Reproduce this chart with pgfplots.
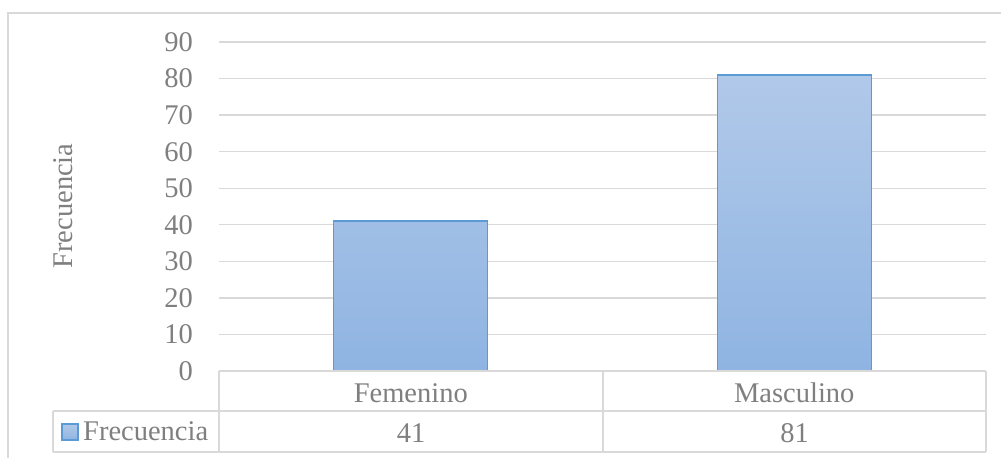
\documentclass[border=0pt]{standalone}
\usepackage{fontspec}
\setmainfont{Liberation Serif}
\usepackage{pgfplots}
\pgfplotsset{compat=1.18}
\definecolor{txt}{RGB}{127,127,127}
\definecolor{gridc}{RGB}{217,217,217}
\definecolor{bartop}{RGB}{177,201,233}
\definecolor{barbot}{RGB}{143,180,226}
\definecolor{bardraw}{RGB}{91,155,213}
\newcommand{\F}{\fontsize{28.5pt}{34pt}\selectfont}
\begin{document}
\begin{tikzpicture}[x=1pt,y=1pt]
\path[use as bounding box] (0,0) rectangle (1001,-458);
\draw[gridc, line width=1.3pt] (8,-458) -- (8,-13) -- (1001,-13);
\begin{axis}[at={(219pt,-371pt)}, anchor=south west, scale only axis,
  width=767pt, height=329pt,
  xmin=-0.5, xmax=1.5, ymin=0, ymax=90, ytick={0,10,...,90},
  xtick={0,1}, xticklabels={Femenino,Masculino},
  axis line style={draw=none}, major tick length=0pt,
  ymajorgrids, grid style={gridc, line width=1.3pt},
  tick label style={font=\F, text=txt},
  /pgf/number format/assume math mode=true,
  yticklabel style={anchor=east, inner sep=0pt, xshift=-26pt},
  xticklabel style={anchor=base, inner sep=0pt, yshift=-31pt},
  clip=false]
\addplot[ybar, bar width=154pt, bar shift=0pt, draw=none,
  top color=bartop, bottom color=barbot] coordinates {(0,41) (1,81)};
\addplot[ybar, bar width=154pt, bar shift=0pt, draw=bardraw, fill=none,
  line width=1.4pt] coordinates {(0,41) (1,81)};
\end{axis}
% data table
\begin{scope}[gridc, line width=1.3pt]
\draw (219,-371) -- (986,-371);
\draw (53,-411) -- (986,-411);
\draw (53,-452) -- (986,-452);
\draw (219,-371) -- (219,-452);
\draw (603,-371) -- (603,-452);
\draw (986,-371) -- (986,-452);
\draw (53,-411) -- (53,-452);
\end{scope}
\node[text=txt, font=\F, anchor=base, inner sep=0pt] at (411,-442) {41};
\node[text=txt, font=\F, anchor=base, inner sep=0pt] at (794.5,-442) {81};
\draw[bardraw, line width=1.2pt, top color=bartop, bottom color=barbot] (62,-424) rectangle (78,-440);
\node[text=txt, font=\F, anchor=base west, inner sep=0pt] at (83,-440) {Frecuencia};
\node[text=txt, font=\F, anchor=base, inner sep=0pt, rotate=90] at (72,-206) {Frecuencia};
\end{tikzpicture}
\end{document}
